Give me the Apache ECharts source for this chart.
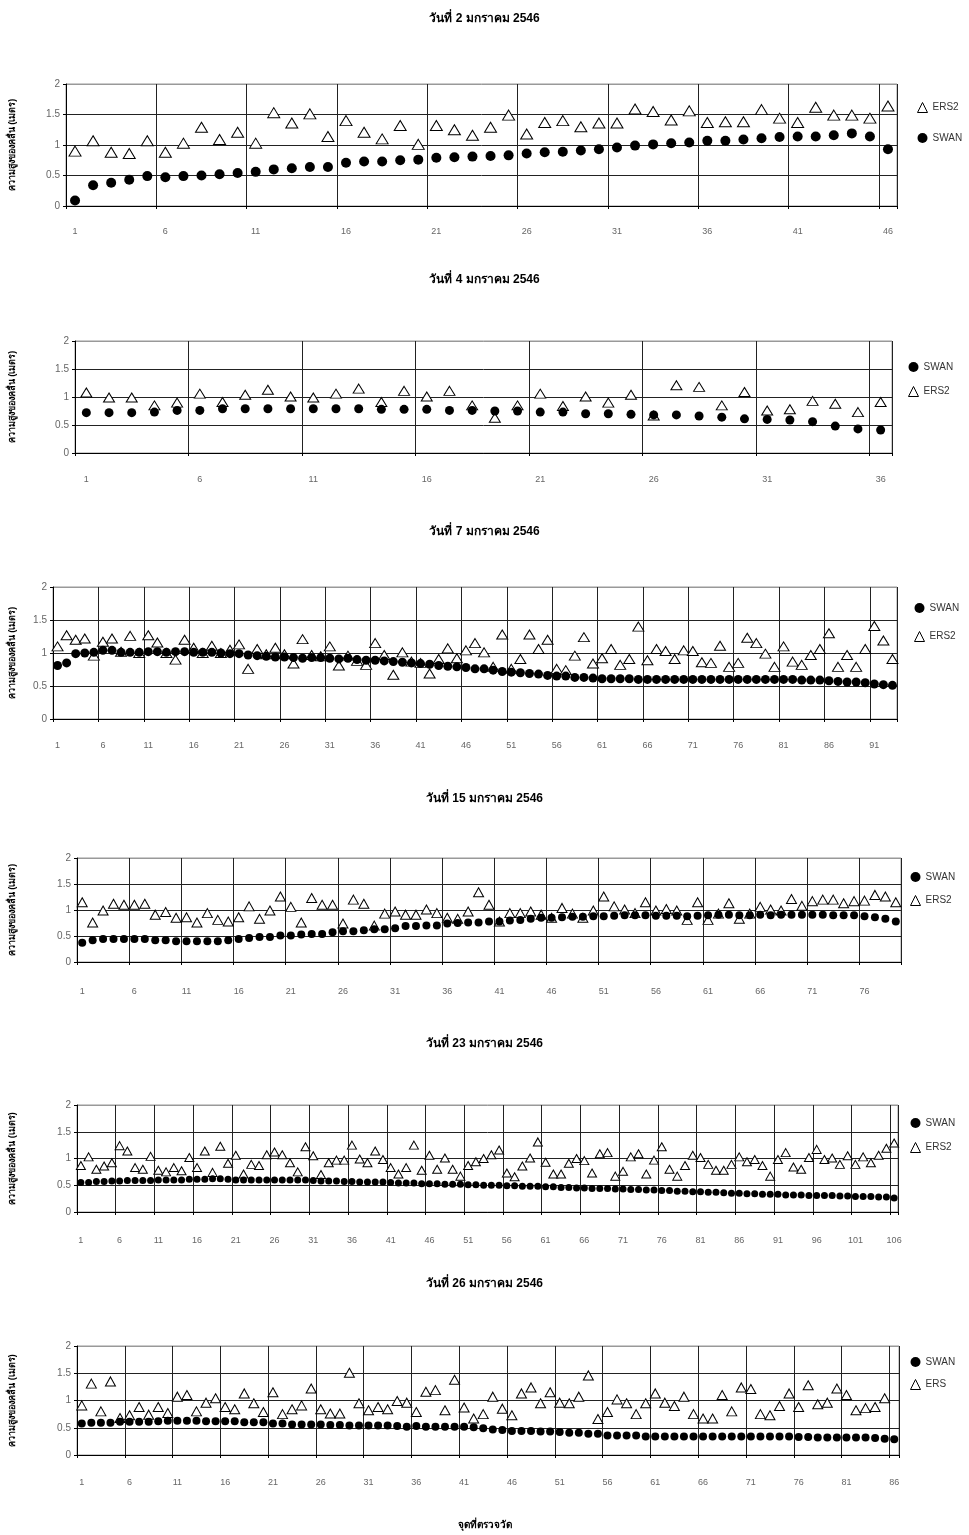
<!DOCTYPE html>
<html>
<head>
<meta charset="utf-8">
<script src="https://cdn.jsdelivr.net/npm/echarts@6/dist/echarts.min.js"></script>
<style>
  html, body { margin: 0; padding: 0; background: #fff; }
  #main { width: 969px; height: 1535px; }
</style>
</head>
<body>
<div id="main"></div>
<script>
const chart = echarts.init(document.getElementById('main'))

// ---- data (ความสูงคลื่น, เมตร) ----
const titles = ['วันที่ 2 มกราคม 2546', 'วันที่ 4 มกราคม 2546', 'วันที่ 7 มกราคม 2546',
  'วันที่ 15 มกราคม 2546', 'วันที่ 23 มกราคม 2546', 'วันที่ 26 มกราคม 2546']
const yName = 'ความสูงของคลื่น (เมตร)'
const xName = 'จุดที่ตรวจวัด'

const swan1 = [0.09,0.34,0.38,0.43,0.49,0.47,0.49,0.50,0.52,0.54,0.56,0.60,0.62,0.64,0.64,0.71,0.73,0.73,0.75,0.76,
  0.79,0.80,0.81,0.82,0.83,0.86,0.88,0.89,0.91,0.93,0.96,0.99,1.01,1.03,1.04,1.07,1.07,1.09,1.11,1.13,
  1.14,1.14,1.16,1.19,1.14,0.93]
const ers1 = [0.90,1.07,0.88,0.86,1.07,0.88,1.03,1.29,1.09,1.21,1.03,1.53,1.36,1.51,1.14,1.40,1.21,1.10,1.32,1.01,
  1.32,1.25,1.16,1.29,1.49,1.18,1.37,1.40,1.30,1.36,1.36,1.59,1.55,1.41,1.56,1.37,1.38,1.38,1.58,1.44,
  1.37,1.62,1.49,1.49,1.44,1.64]

const swan2 = [0.72,0.72,0.72,0.73,0.76,0.76,0.79,0.79,0.79,0.79,0.79,0.79,0.79,0.78,0.78,0.78,0.76,0.76,0.75,0.75,
  0.73,0.73,0.70,0.70,0.69,0.68,0.68,0.66,0.64,0.61,0.60,0.59,0.56,0.48,0.43,0.41]
const ers2 = [1.08,0.99,0.99,0.85,0.90,1.06,0.91,1.04,1.13,1.01,0.99,1.06,1.15,0.91,1.11,1.01,1.11,0.85,0.63,0.85,
  1.06,0.84,1.01,0.90,1.04,0.67,1.21,1.18,0.85,1.09,0.76,0.78,0.93,0.88,0.73,0.91]

const swan3 = [0.81,0.85,0.99,1.00,1.01,1.04,1.04,1.01,1.01,1.01,1.02,1.02,1.01,1.02,1.02,1.01,1.01,1.01,1.00,0.99,
  0.99,0.97,0.96,0.95,0.94,0.94,0.93,0.92,0.93,0.93,0.92,0.91,0.92,0.90,0.89,0.89,0.88,0.87,0.86,0.85,
  0.84,0.83,0.81,0.80,0.79,0.78,0.76,0.76,0.74,0.72,0.71,0.70,0.69,0.68,0.66,0.65,0.65,0.63,0.63,0.62,
  0.61,0.61,0.61,0.61,0.60,0.60,0.60,0.60,0.60,0.60,0.60,0.60,0.60,0.60,0.60,0.60,0.60,0.60,0.60,0.60,
  0.60,0.60,0.59,0.59,0.59,0.58,0.57,0.56,0.56,0.55,0.53,0.52,0.51]
const ers3 = [1.10,1.27,1.20,1.22,0.96,1.17,1.22,1.02,1.26,1.00,1.27,1.16,1.00,0.90,1.20,1.08,1.00,1.11,1.00,1.05,
  1.13,0.76,1.06,0.98,1.08,0.98,0.84,1.21,0.97,0.95,1.10,0.81,0.96,0.88,0.82,1.15,0.97,0.67,1.01,0.87,
  0.85,0.69,0.91,1.07,0.92,1.04,1.15,1.01,0.79,1.28,0.76,0.91,1.28,1.06,1.20,0.76,0.74,0.96,1.24,0.84,
  0.92,1.06,0.82,0.91,1.40,0.89,1.06,1.03,0.91,1.04,1.03,0.86,0.85,1.11,0.79,0.85,1.23,1.15,0.99,0.79,
  1.10,0.87,0.82,0.97,1.06,1.30,0.79,0.97,0.79,1.06,1.41,1.19,0.91]

const swan4 = [0.37,0.42,0.44,0.44,0.44,0.44,0.44,0.42,0.42,0.40,0.40,0.40,0.40,0.40,0.42,0.44,0.46,0.48,0.48,0.51,
  0.51,0.53,0.54,0.54,0.57,0.59,0.59,0.61,0.63,0.63,0.65,0.69,0.69,0.70,0.70,0.74,0.75,0.76,0.76,0.78,
  0.78,0.80,0.81,0.83,0.85,0.85,0.86,0.87,0.87,0.88,0.88,0.89,0.90,0.90,0.90,0.89,0.89,0.89,0.88,0.89,
  0.90,0.91,0.91,0.90,0.90,0.91,0.90,0.91,0.91,0.91,0.91,0.91,0.90,0.90,0.90,0.88,0.86,0.83,0.78]
const ers4 = [1.15,0.76,0.99,1.12,1.10,1.10,1.12,0.91,0.96,0.85,0.86,0.76,0.94,0.81,0.78,0.86,1.07,0.83,0.99,1.26,
  1.06,0.76,1.23,1.10,1.10,0.74,1.20,1.12,0.70,0.93,0.97,0.91,0.91,1.01,0.94,0.85,0.83,0.97,1.34,1.10,
  0.78,0.94,0.94,0.97,0.91,0.85,1.04,0.93,0.85,0.99,1.26,1.07,1.01,0.94,1.15,0.99,1.02,0.99,0.81,1.15,
  0.81,0.93,1.13,0.83,0.93,1.06,1.01,0.99,1.21,1.08,1.17,1.20,1.20,1.13,1.17,1.18,1.29,1.26,1.15]

const swan5 = [0.55,0.55,0.57,0.57,0.58,0.58,0.59,0.59,0.59,0.59,0.60,0.60,0.60,0.60,0.61,0.61,0.61,0.62,0.62,0.61,
  0.60,0.60,0.60,0.60,0.60,0.60,0.60,0.60,0.60,0.60,0.59,0.58,0.58,0.58,0.57,0.57,0.56,0.56,0.56,0.56,
  0.55,0.54,0.54,0.54,0.53,0.53,0.53,0.52,0.52,0.52,0.51,0.51,0.50,0.50,0.50,0.49,0.49,0.48,0.48,0.48,
  0.47,0.47,0.46,0.46,0.45,0.45,0.44,0.44,0.44,0.43,0.43,0.42,0.42,0.41,0.41,0.40,0.40,0.39,0.39,0.38,
  0.38,0.37,0.37,0.36,0.35,0.35,0.34,0.34,0.33,0.33,0.33,0.32,0.32,0.32,0.31,0.31,0.31,0.31,0.30,0.30,
  0.29,0.29,0.29,0.28,0.28,0.26]
const ers5 = [0.87,1.03,0.80,0.86,0.92,1.24,1.14,0.83,0.80,1.04,0.78,0.75,0.83,0.77,1.02,0.83,1.14,0.74,1.23,0.91,
  1.06,0.71,0.89,0.87,1.07,1.12,1.07,0.92,0.75,1.22,1.05,0.70,0.92,0.97,0.97,1.25,0.99,0.92,1.14,0.98,
  0.83,0.71,0.83,1.25,0.78,1.06,0.80,1.01,0.80,0.67,0.87,0.94,1.00,1.07,1.16,0.73,0.66,0.86,1.01,1.31,
  0.93,0.71,0.71,0.91,1.00,0.96,0.73,1.09,1.11,0.67,0.76,1.03,1.09,0.71,0.97,1.22,0.80,0.67,0.87,1.06,
  1.02,0.89,0.78,0.78,0.89,1.03,0.94,0.98,0.87,0.67,0.98,1.11,0.84,0.80,1.02,1.17,0.98,1.01,0.89,1.05,
  0.89,1.03,0.92,1.06,1.19,1.29]

const swan6 = [0.58,0.59,0.59,0.59,0.61,0.61,0.61,0.61,0.62,0.63,0.63,0.63,0.63,0.62,0.62,0.62,0.62,0.60,0.60,0.60,
  0.58,0.58,0.56,0.56,0.56,0.56,0.55,0.55,0.54,0.54,0.54,0.54,0.54,0.53,0.52,0.53,0.52,0.52,0.52,0.52,
  0.52,0.51,0.49,0.47,0.46,0.44,0.44,0.44,0.43,0.43,0.42,0.41,0.41,0.39,0.39,0.36,0.36,0.36,0.36,0.34,
  0.34,0.34,0.34,0.34,0.34,0.34,0.34,0.34,0.34,0.34,0.34,0.34,0.34,0.34,0.34,0.33,0.33,0.32,0.32,0.32,
  0.32,0.32,0.32,0.31,0.30,0.29]
const ers6 = [0.91,1.31,0.80,1.35,0.68,0.73,0.88,0.74,0.88,0.77,1.07,1.10,0.80,0.96,1.04,0.88,0.84,1.13,0.95,0.79,
  1.15,0.75,0.84,0.91,1.22,0.84,0.76,0.76,1.51,0.95,0.82,0.88,0.84,0.99,0.96,0.79,1.16,1.19,0.82,1.38,
  0.87,0.67,0.75,1.07,0.85,0.73,1.13,1.24,0.95,1.15,0.96,0.95,1.07,1.46,0.66,0.79,1.02,0.95,0.75,0.95,
  1.13,0.96,0.90,1.07,0.75,0.67,0.67,1.10,0.80,1.24,1.21,0.75,0.73,0.90,1.13,0.88,1.28,0.93,0.96,1.22,
  1.10,0.82,0.86,0.88,1.04,null]

const swanData = [swan1, swan2, swan3, swan4, swan5, swan6]
const ersData = [ers1, ers2, ers3, ers4, ers5, ers6]
const ersNames = ['ERS2', 'ERS2', 'ERS2', 'ERS2', 'ERS2', 'ERS']
const legendOrder = [['ERS2', 'SWAN'], ['SWAN', 'ERS2'], ['SWAN', 'ERS2'], ['SWAN', 'ERS2'], ['SWAN', 'ERS2'], ['SWAN', 'ERS']]

// ---- layout (px) ----
const layout = [
  { left: 63, right: 72, top: 84, height: 122, titleTop: 8, legendLeft: 912, legendTop: 97, legendGap: 20, nameGap: 49, dot: 10, tri: [12, 10], labelMargin: 21 },
  { left: 72, right: 77, top: 341, height: 112, titleTop: 269, legendLeft: 903, legendTop: 357, legendGap: 14, nameGap: 58, dot: 9, tri: [11, 9], labelMargin: 22 },
  { left: 50, right: 72, top: 587, height: 132, titleTop: 521, legendLeft: 909, legendTop: 598, legendGap: 18, nameGap: 36, dot: 9, tri: [11, 9], labelMargin: 22 },
  { left: 74, right: 68, top: 858, height: 104, titleTop: 788, legendLeft: 905, legendTop: 867, legendGap: 13, nameGap: 60, dot: 8, tri: [10, 9], labelMargin: 25 },
  { left: 74, right: 71, top: 1105, height: 107, titleTop: 1033, legendLeft: 905, legendTop: 1113, legendGap: 14, nameGap: 60, dot: 7, tri: [9, 8], labelMargin: 24 },
  { left: 74, right: 70, top: 1346, height: 109, titleTop: 1273, legendLeft: 905, legendTop: 1352, legendGap: 12, nameGap: 60, dot: 8, tri: [10, 9], labelMargin: 23 }
]

const every5 = (index) => index % 5 === 0

let grid = [], xAxis = [], yAxis = [], series = [], legend = []
let title = []

layout.forEach((p, i) => {
  const cats = swanData[i].map((v, k) => String(k + 1))
  title.push({
    text: titles[i], left: 'center', top: p.titleTop,
    textStyle: { fontSize: 12, fontWeight: 'bold', color: '#000' }
  })
  grid.push({
    left: p.left, right: p.right, top: p.top, height: p.height,
    show: true, borderColor: '#999', borderWidth: 1, backgroundColor: 'rgba(0,0,0,0)'
  })
  xAxis.push({
    type: 'category', gridIndex: i, data: cats, boundaryGap: true,
    axisLine: { lineStyle: { color: '#000', width: 1 } },
    axisTick: { show: true, interval: every5, length: 3, lineStyle: { color: '#000' } },
    axisLabel: { interval: every5, color: '#666', fontSize: 9, margin: p.labelMargin },
    splitLine: { show: true, interval: every5, lineStyle: { color: '#222', width: 1 } }
  })
  yAxis.push({
    type: 'value', gridIndex: i, min: 0, max: 2, interval: 0.5,
    name: yName, nameLocation: 'middle', nameGap: p.nameGap, nameRotate: 90,
    nameTextStyle: { fontSize: 9, fontWeight: 'bold', color: '#000' },
    axisLine: { show: true, lineStyle: { color: '#000', width: 1 } },
    axisTick: { show: true, length: 3, lineStyle: { color: '#000' } },
    axisLabel: { color: '#666', fontSize: 10, margin: 6 },
    splitLine: { show: true, lineStyle: { color: ['#000', '#222', '#222', '#222', '#999'], width: 1 } }
  })
  series.push({
    name: ersNames[i], type: 'scatter', xAxisIndex: i, yAxisIndex: i,
    symbol: 'triangle', symbolSize: p.tri, data: ersData[i],
    itemStyle: { color: '#fff', borderColor: '#000', borderWidth: 1, opacity: 1 },
    emphasis: { disabled: true }
  })
  series.push({
    name: 'SWAN', type: 'scatter', xAxisIndex: i, yAxisIndex: i,
    symbol: 'circle', symbolSize: p.dot, data: swanData[i],
    itemStyle: { color: '#000', opacity: 1 },
    emphasis: { disabled: true }
  })
  legend.push({
    left: p.legendLeft, top: p.legendTop, orient: 'vertical',
    itemGap: p.legendGap, itemWidth: 10, itemHeight: 10,
    data: legendOrder[i],
    itemStyle: { borderWidth: 1 },
    textStyle: { fontSize: 10, color: '#333' },
    selectedMode: false
  })
})

title.push({
  text: xName, left: 'center', top: 1515,
  textStyle: { fontSize: 10, fontWeight: 'bold', color: '#000' }
})

chart.setOption({
  animation: false,
  backgroundColor: '#fff',
  title: title,
  legend: legend,
  grid: grid,
  xAxis: xAxis,
  yAxis: yAxis,
  series: series
})
</script>
</body>
</html>
